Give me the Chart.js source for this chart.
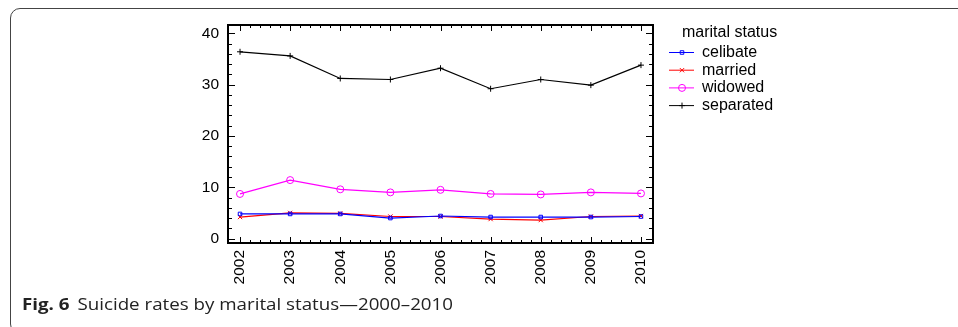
<!DOCTYPE html>
<html>
<head>
<meta charset="utf-8">
<script src="https://cdn.jsdelivr.net/npm/chart.js@4.4.1/dist/chart.umd.min.js"></script>
<style>
  html, body { margin: 0; padding: 0; background: #fff; }
  #wrap { position: relative; width: 958px; height: 327px; overflow: hidden; }
  #box { position: absolute; left: 10px; top: 8px; width: 1000px; height: 326px;
         border: 1px solid #444; border-radius: 10px; box-sizing: border-box; }
  canvas { position: absolute; left: 0; top: 0; }
  #caption { position: absolute; left: 22px; top: 293px; font-family: "Open Sans", sans-serif;
             font-size: 16.5px; line-height: 22px; color: #222; white-space: nowrap;
             transform-origin: left top; }
  #caption b { font-weight: 700; margin-right: 7px; }
</style>
</head>
<body>
<div id="wrap">
  <div id="box"></div>
  <canvas id="c" width="958" height="327"></canvas>
  <div id="caption"><b>Fig. 6</b>Suicide rates by marital status—2000–2010</div>
</div>
<script>
// Suicide rates per 100,000 by marital status
const years = [2002, 2003, 2004, 2005, 2006, 2007, 2008, 2009, 2010];
const celibate  = [4.8, 4.8, 4.8, 4.0, 4.4, 4.2, 4.2, 4.2, 4.3];
const married   = [4.2, 5.0, 4.9, 4.3, 4.3, 3.8, 3.6, 4.3, 4.4];
const widowed   = [8.7, 11.4, 9.6, 9.0, 9.5, 8.7, 8.6, 9.0, 8.8];
const separated = [36.4, 35.6, 31.2, 31.0, 33.2, 29.2, 31.0, 29.9, 33.8];
const yTicks = [0, 10, 20, 30, 40];
const legendTitle = 'marital status';

const pts = arr => years.map((y, i) => ({ x: y, y: arr[i] }));
const tickFont = { family: '"Liberation Sans", Arial, sans-serif', size: 15.5 };

// Boxed frame with inward major/minor ticks on all four sides
const framePlugin = {
  id: 'frame',
  afterDatasetsDraw(chart) {
    const { ctx, chartArea: a, scales: { x, y } } = chart;
    ctx.save();
    ctx.strokeStyle = '#000';
    ctx.lineWidth = 1;
    ctx.beginPath();
    for (let v = 0; v <= 40; v += 2) {
      const py = Math.round(y.getPixelForValue(v)) + 0.5;
      const len = v % 10 === 0 ? 7 : 4;
      ctx.moveTo(a.left, py); ctx.lineTo(a.left + len, py);
      ctx.moveTo(a.right, py); ctx.lineTo(a.right - len, py);
    }
    for (let k = 0; k <= 40; k++) {
      const v = years[0] + k * 0.2;
      const px = Math.round(x.getPixelForValue(v)) + 0.5;
      const len = k % 5 === 0 ? 6 : 3;
      ctx.moveTo(px, a.bottom); ctx.lineTo(px, a.bottom - len);
      ctx.moveTo(px, a.top); ctx.lineTo(px, a.top + len);
    }
    ctx.stroke();
    ctx.lineWidth = 2;
    ctx.strokeRect(a.left, a.top, a.right - a.left, a.bottom - a.top);
    ctx.restore();
  }
};

// Legend block to the right of the frame
const legendPlugin = {
  id: 'sideLegend',
  afterDraw(chart) {
    const { ctx } = chart;
    ctx.save();
    ctx.font = '16px "Liberation Sans", Arial, sans-serif';
    ctx.textBaseline = 'middle';
    ctx.textAlign = 'left';
    ctx.fillStyle = '#000';
    ctx.fillText(legendTitle, 682, 33);
    chart.data.datasets.forEach((ds, i) => {
      const cy = 52.5 + i * 17.7;
      ctx.strokeStyle = ds.borderColor;
      ctx.lineWidth = 1;
      ctx.beginPath();
      ctx.moveTo(669, cy); ctx.lineTo(694, cy);
      ctx.stroke();
      ctx.fillStyle = 'rgba(0,0,0,0)';
      Chart.helpers.drawPoint(ctx, {
        pointStyle: ds.pointStyle, radius: ds.pointRadius, borderWidth: 1, rotation: 0
      }, 682, cy);
      ctx.fillStyle = '#000';
      ctx.fillText(ds.label, 702, cy);
    });
    ctx.restore();
  }
};

const mk = (label, arr, color, style, r) => ({
  label, data: pts(arr), borderColor: color, backgroundColor: 'rgba(0,0,0,0)',
  borderWidth: 1.2, pointStyle: style, pointRadius: r, pointBorderWidth: 1,
  pointBorderColor: color, pointBackgroundColor: 'rgba(0,0,0,0)', tension: 0
});

new Chart(document.getElementById('c'), {
  type: 'line',
  data: {
    datasets: [
      mk('celibate', celibate, '#0000ff', 'rect', 2.5),
      mk('married', married, '#ff0000', 'crossRot', 3),
      mk('widowed', widowed, '#ff00ff', 'circle', 3.5),
      mk('separated', separated, '#000000', 'cross', 3)
    ]
  },
  options: {
    responsive: false,
    animation: false,
    layout: { padding: { left: 0, right: 305, top: 25, bottom: 0 } },
    plugins: { legend: { display: false }, tooltip: { enabled: false } },
    scales: {
      x: {
        type: 'linear', min: 2001.76, max: 2010.24,
        grid: { display: false, drawTicks: false }, border: { display: false },
        afterBuildTicks: s => { s.ticks = years.map(v => ({ value: v })); },
        afterFit: s => { s.height = 84; },
        ticks: {
          minRotation: 90, maxRotation: 90, padding: 7, color: '#000',
          font: tickFont, callback: v => String(v)
        }
      },
      y: {
        type: 'linear', min: -0.86, max: 41.62,
        grid: { display: false, drawTicks: false }, border: { display: false },
        afterBuildTicks: s => { s.ticks = yTicks.map(v => ({ value: v })); },
        afterFit: s => { s.width = 228; },
        ticks: { padding: 9, color: '#000', font: tickFont }
      }
    }
  },
  plugins: [framePlugin, legendPlugin]
});

// Stretch the caption line to its set width
const cap = document.getElementById('caption');
cap.style.transform = 'scaleX(' + (431 / cap.getBoundingClientRect().width) + ')';
</script>
</body>
</html>
